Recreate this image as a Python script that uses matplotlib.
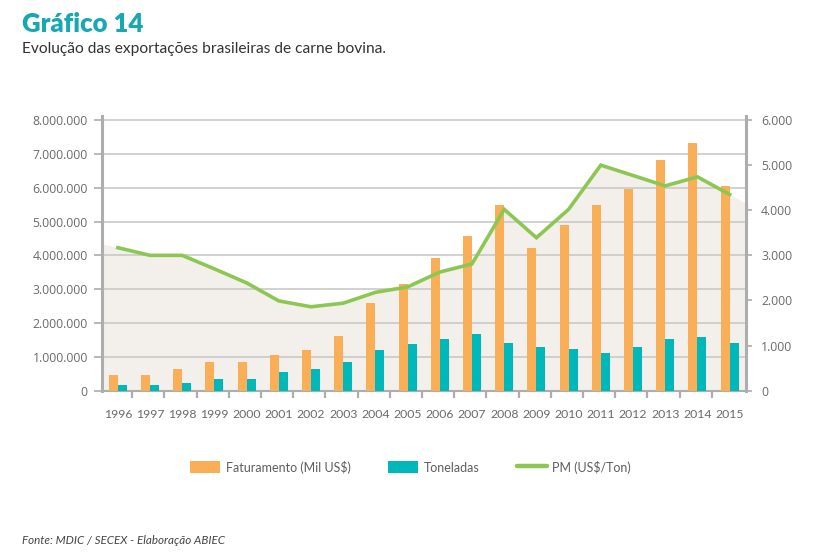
import matplotlib
matplotlib.use("Agg")
import matplotlib.pyplot as plt
import numpy as np
from matplotlib.ticker import FuncFormatter, FixedLocator
from matplotlib.patches import Patch
from matplotlib.lines import Line2D

years = ["1996", "1997", "1998", "1999", "2000", "2001", "2002", "2003", "2004", "2005",
         "2006", "2007", "2008", "2009", "2010", "2011", "2012", "2013", "2014", "2015"]
faturamento = [460000, 460000, 640000, 850000, 850000, 1060000, 1200000, 1620000, 2600000, 3150000,
               3920000, 4560000, 5500000, 4220000, 4900000, 5500000, 5960000, 6820000, 7330000, 6050000]
toneladas = [168000, 168000, 220000, 350000, 350000, 550000, 640000, 850000, 1200000, 1370000,
             1540000, 1670000, 1410000, 1280000, 1240000, 1110000, 1280000, 1540000, 1580000, 1410000]
pm = [3170, 3000, 3000, 2700, 2390, 1990, 1860, 1940, 2180, 2300,
      2630, 2810, 4020, 3390, 4020, 5000, 4770, 4540, 4740, 4350]

left_ticks = [0, 1000000, 2000000, 3000000, 4000000, 5000000, 6000000, 7000000, 8000000]
right_ticks = [0, 1000, 2000, 3000, 4000, 5000, 6000]

C_OR = "#F9AE57"
C_TE = "#00B7BA"
C_GR = "#8DC753"
C_FILL = "#F3F0EB"
C_GRID = "#C9C9C9"
C_SPINE = "#ADADAD"
C_TXT = "#6A6A6A"
C_TITLE = "#17A8B2"

fig = plt.figure(figsize=(8.16, 5.53), dpi=100)
W, H = 816, 553
L, R, B, T = 101.7, 745.7, 390.7, 116
ax = fig.add_axes([L / W, 1 - B / H, (R - L) / W, (B - T) / H])
ax2 = ax.twinx()

x = np.arange(len(years))
ytop = 8000000 * (B - T) / (B - 120)
ax.set_xlim(-0.5, len(years) - 0.5)
ax.set_ylim(0, ytop)
ax2.set_ylim(0, 6000 * ytop / 8000000)

# background fill under PM line extended to the plot edges
pm_arr = np.array(pm, dtype=float)
y_left = pm_arr[0] - 0.5 * (pm_arr[1] - pm_arr[0])
y_right = pm_arr[-1] + 0.5 * (pm_arr[-1] - pm_arr[-2])
xf = np.concatenate([[-0.5], x, [len(years) - 0.5]])
yf = np.concatenate([[y_left], pm_arr, [y_right]])
ax.set_zorder(1)
ax2.set_zorder(2)
ax.patch.set_visible(False)
scale = 8000000 / 6000
ax.fill_between(xf, 0, yf * scale, color=C_FILL, zorder=0, linewidth=0)

for yv in left_ticks:
    ax.axhline(yv, color=C_GRID, lw=1.2, zorder=1)

bw = 0.28
ax.bar(x - bw / 2, faturamento, width=bw, color=C_OR, zorder=3, linewidth=0)
ax.bar(x + bw / 2, toneladas, width=bw, color=C_TE, zorder=3, linewidth=0)
ax2.plot(x, pm, color=C_GR, lw=2.6, solid_joinstyle="miter", zorder=4)

fmt = FuncFormatter(lambda v, p: f"{int(v):,}".replace(",", "."))
ax.yaxis.set_major_locator(FixedLocator(left_ticks))
ax.yaxis.set_major_formatter(fmt)
ax2.yaxis.set_major_locator(FixedLocator(right_ticks))
ax2.yaxis.set_major_formatter(fmt)

for a in (ax, ax2):
    for s in a.spines.values():
        s.set_visible(False)
ax.spines["left"].set_visible(True)
ax.spines["left"].set_color(C_SPINE)
ax.spines["left"].set_linewidth(2.2)
ax.spines["bottom"].set_visible(True)
ax.spines["bottom"].set_color(C_SPINE)
ax.spines["bottom"].set_linewidth(1.5)
ax2.spines["right"].set_visible(True)
ax2.spines["right"].set_color(C_SPINE)
ax2.spines["right"].set_linewidth(2.2)

ax.tick_params(axis="y", length=6, width=1.2, color=C_SPINE, pad=4,
               labelsize=8.8, labelcolor=C_TXT)
ax2.tick_params(axis="y", length=4, width=1.2, color=C_SPINE, pad=7,
                labelsize=8.8, labelcolor=C_TXT)
for lab in ax.get_yticklabels() + ax2.get_yticklabels():
    lab.set_fontfamily("Open Sans")

ax.set_xticks(x)
ax.set_xticklabels(years, fontfamily="Lato", fontsize=8.8, color=C_TXT)
ax.tick_params(axis="x", which="major", length=0, pad=13)
ax.xaxis.set_minor_locator(FixedLocator(list(np.arange(len(years) - 1) + 0.45)))
ax.tick_params(axis="x", which="minor", length=5, width=1.6, color=C_SPINE, direction="out")

fig.text(22 / W, 1 - 31.5 / H, "Gráfico 14", fontfamily="Lato", fontweight="heavy",
         fontsize=18.5, color=C_TITLE, va="baseline", ha="left")
fig.text(22 / W, 1 - 53 / H, "Evolução das exportações brasileiras de carne bovina.",
         fontfamily="Lato", fontsize=11.2, color="#333333", va="baseline", ha="left")
fig.text(22 / W, 1 - 540 / H, "Fonte: MDIC / SECEX - Elaboração ABIEC",
         fontfamily="Lato", fontstyle="italic", fontsize=8.4, color="#444444",
         va="center", ha="left")

handles = [Patch(facecolor=C_OR, edgecolor="none"),
           Patch(facecolor=C_TE, edgecolor="none"),
           Line2D([0], [0], color=C_GR, lw=3.2, solid_capstyle="round")]
labels = ["Faturamento (Mil US$)", "Toneladas", "PM (US$/Ton)"]
leg = fig.legend(handles, labels, loc="center", bbox_to_anchor=(410.6 / W, 1 - 467 / H),
                 ncol=3, frameon=False, prop={"family": "Lato", "size": 9},
                 handlelength=2.4, handleheight=1.1, handletextpad=0.45,
                 columnspacing=3.0, borderaxespad=0, borderpad=0)
for t in leg.get_texts():
    t.set_color("#5E5E5E")

fig.savefig("out.png", dpi=100)
